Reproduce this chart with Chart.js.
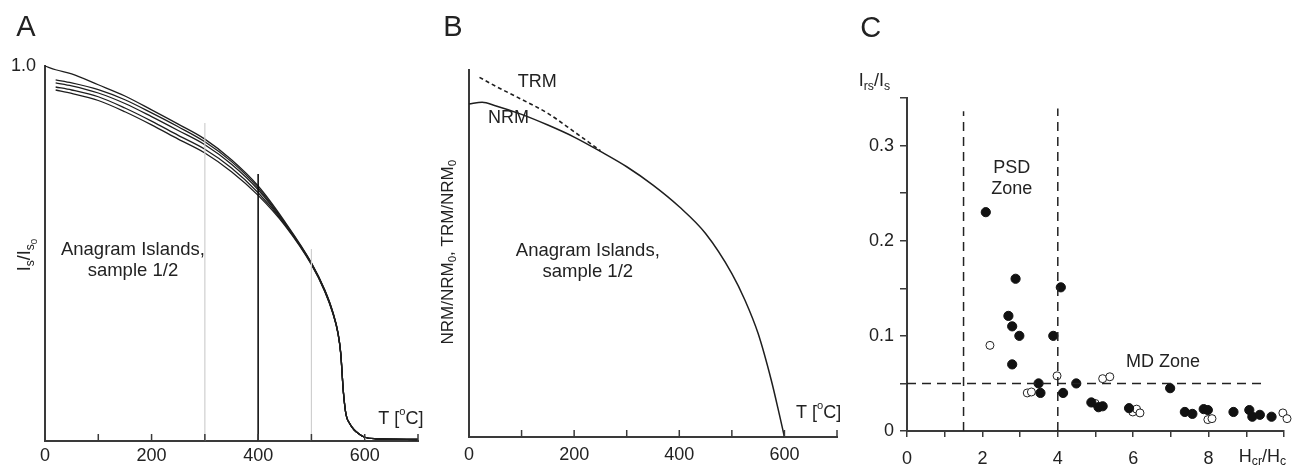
<!DOCTYPE html>
<html lang="en">
<head>
    <meta charset="UTF-8">
    <title>Thermomagnetic curves and hysteresis ratios</title>
    <script src="https://cdn.jsdelivr.net/npm/chart.js"></script>
    <style>
        body { margin: 0; background: #fff; }
        #wrap { position: relative; width: 1295px; height: 469px; }
        canvas { position: absolute; top: 0; }
    </style>
</head>
<body>
    <div id="wrap">
        <canvas id="chartA" width="440" height="469" style="left:0px"></canvas>
        <canvas id="chartB" width="420" height="469" style="left:440px"></canvas>
        <canvas id="chartC" width="465" height="469" style="left:830px"></canvas>
    </div>

    <script>
        // Panel A: Is/Is0 vs temperature, several runs of sample 1/2
        const tempA = [0, 20, 50, 100, 150, 200, 250, 300, 350, 400, 450, 500, 525, 540, 550, 555, 560, 565, 572, 580, 590, 600, 620, 700];
        const curveA1 = [1.0, 0.99, 0.979, 0.95, 0.92, 0.883, 0.845, 0.805, 0.75, 0.68, 0.585, 0.475, 0.403, 0.345, 0.288, 0.235, 0.13, 0.07, 0.046, 0.03, 0.018, 0.01, 0.006, 0.004];
        const curveA2 = [null, 0.963, 0.955, 0.937, 0.91, 0.875, 0.838, 0.798, 0.745, 0.675, 0.582, 0.474, 0.402, 0.344, 0.287, 0.234, 0.13, 0.07, 0.046, 0.03, 0.018, 0.01, 0.006, 0.004];
        const curveA3 = [null, 0.955, 0.947, 0.928, 0.90, 0.865, 0.828, 0.79, 0.738, 0.67, 0.58, 0.473, 0.401, 0.343, 0.287, 0.234, 0.13, 0.07, 0.046, 0.03, 0.018, 0.01, 0.006, 0.004];
        const curveA4 = [null, 0.944, 0.936, 0.918, 0.888, 0.853, 0.815, 0.778, 0.728, 0.662, 0.578, 0.472, 0.40, 0.342, 0.286, 0.233, 0.13, 0.07, 0.046, 0.03, 0.018, 0.01, 0.006, 0.004];
        const curveA5 = [null, 0.936, 0.927, 0.908, 0.878, 0.843, 0.805, 0.768, 0.718, 0.655, 0.575, 0.47, 0.399, 0.341, 0.285, 0.232, 0.13, 0.07, 0.046, 0.03, 0.018, 0.01, 0.006, 0.004];
        const markerT = [300, 400, 500];
        const markerTop = [0.848, 0.712, 0.512];
        const markerColor = ['#cfcfcf', '#111111', '#cfcfcf'];

        // Panel B: NRM and TRM demagnetisation
        const tempNRM = [0, 25, 50, 100, 150, 200, 250, 300, 350, 400, 450, 500, 525, 550, 575, 590, 600];
        const valNRM = [0.998, 1.003, 0.993, 0.967, 0.935, 0.899, 0.856, 0.81, 0.755, 0.69, 0.61, 0.49, 0.41, 0.31, 0.17, 0.07, 0.0];
        const tempTRM = [20, 50, 100, 150, 200, 250];
        const valTRM = [1.078, 1.052, 1.012, 0.97, 0.915, 0.858];

        // Panel C: Irs/Is vs Hcr/Hc
        const filledX = [2.09, 2.88, 4.08, 2.69, 2.79, 2.98, 3.88, 2.79, 3.49, 3.54, 4.14, 4.49, 4.89, 5.08, 5.19, 5.89, 6.98, 7.37, 7.57, 7.87, 7.98, 8.66, 9.08, 9.16, 9.36, 9.67];
        const filledY = [0.230, 0.160, 0.151, 0.121, 0.110, 0.100, 0.100, 0.070, 0.050, 0.040, 0.040, 0.050, 0.030, 0.025, 0.026, 0.024, 0.045, 0.020, 0.018, 0.023, 0.022, 0.020, 0.022, 0.015, 0.017, 0.015];
        const openX = [2.20, 3.98, 3.19, 3.30, 5.19, 5.38, 4.99, 5.99, 6.09, 6.18, 7.98, 8.09, 9.97, 10.08];
        const openY = [0.090, 0.058, 0.040, 0.041, 0.055, 0.057, 0.029, 0.020, 0.023, 0.019, 0.012, 0.013, 0.019, 0.013];
        const psdBounds = [1.5, 4];
        const mdLevel = 0.05;

        const FAMILY = '"Liberation Sans", Arial, sans-serif';
        const INK = '#222';
        const AXIS = '#3a3a3a';

        // text with sub/superscripts: level 0 normal, 1 sub, 2 sub-sub, -1 super
        function drawRich(ctx, parts, x, y, size, align, rot) {
            const scaleOf = l => l === 0 ? 1 : (l === -1 ? 0.62 : (l === 1 ? 0.68 : 0.55));
            const shiftOf = l => l === 0 ? 0 : (l === -1 ? -0.4 : (l === 1 ? 0.3 : 0.48));
            ctx.save();
            ctx.translate(x, y);
            if (rot) ctx.rotate(rot);
            ctx.textBaseline = 'middle';
            ctx.textAlign = 'left';
            ctx.fillStyle = INK;
            let w = 0;
            parts.forEach(p => {
                ctx.font = (size * scaleOf(p[1])) + 'px ' + FAMILY;
                w += ctx.measureText(p[0]).width;
            });
            let cx = align === 'center' ? -w / 2 : (align === 'right' ? -w : 0);
            parts.forEach(p => {
                ctx.font = (size * scaleOf(p[1])) + 'px ' + FAMILY;
                ctx.fillText(p[0], cx, shiftOf(p[1]) * size);
                cx += ctx.measureText(p[0]).width;
            });
            ctx.restore();
        }

        const notesPlugin = {
            id: 'notes',
            afterDraw(chart, args, opts) {
                const ctx = chart.ctx;
                const xs = chart.scales.x, ys = chart.scales.y;
                if (opts.innerTicks) {
                    ctx.save();
                    ctx.strokeStyle = AXIS;
                    ctx.lineWidth = 1.5;
                    xs.ticks.forEach(t => {
                        const px = xs.getPixelForValue(t.value);
                        ctx.beginPath();
                        ctx.moveTo(px, xs.top);
                        ctx.lineTo(px, xs.top - 7);
                        ctx.stroke();
                    });
                    ctx.restore();
                }
                (opts.items || []).forEach(n => {
                    drawRich(ctx, n.parts, xs.getPixelForValue(n.x), ys.getPixelForValue(n.y),
                        n.size || 18, n.align || 'center', n.rot || 0);
                });
            }
        };

        Chart.defaults.font.family = FAMILY;
        Chart.defaults.color = INK;

        const tickFont = { size: 18, family: FAMILY };

        function curve(xs, ys, extra) {
            return Object.assign({
                data: xs.map((x, i) => ({ x: x, y: ys[i] })),
                borderColor: '#1e1e1e',
                borderWidth: 1.3,
                pointRadius: 0,
                cubicInterpolationMode: 'monotone',
                fill: false,
                clip: false
            }, extra || {});
        }

        function baseOptions(pad, yWidth, xHeight) {
            return {
                responsive: false,
                animation: false,
                devicePixelRatio: 1,
                layout: { padding: pad },
                plugins: { legend: { display: false }, tooltip: { enabled: false } },
                scales: {
                    x: {
                        type: 'linear',
                        afterFit: s => { s.height = xHeight; }
                    },
                    y: {
                        type: 'linear',
                        afterFit: s => { s.width = yWidth; }
                    }
                }
            };
        }

        // ---------- Panel A ----------
        const optsA = baseOptions({ top: 66, right: 22, left: 0, bottom: 0 }, 45, 28);
        Object.assign(optsA.scales.x, {
            min: 0, max: 700,
            grid: { display: false, drawTicks: false },
            border: { color: AXIS, width: 2 },
            ticks: { stepSize: 100, autoSkip: false, maxRotation: 0, padding: 4, font: tickFont, color: INK,
                callback: v => (v % 200 === 0 && v <= 600) ? String(v) : '' }
        });
        Object.assign(optsA.scales.y, {
            min: 0, max: 1.0,
            grid: { display: false, drawTicks: false },
            border: { color: AXIS, width: 2 },
            ticks: { stepSize: 0.5, padding: 9, font: tickFont, color: INK,
                callback: v => v === 1 ? '1.0' : '' }
        });
        optsA.plugins.notes = {
            innerTicks: true,
            items: [
                { parts: [['A', 0]], x: -35.6, y: 1.101, size: 29 },
                { parts: [['I', 0], ['s', 1], ['/I', 0], ['s', 1], ['0', 2]], x: -37, y: 0.496, rot: -Math.PI / 2 },
                { parts: [['Anagram Islands,', 0]], x: 165, y: 0.509, size: 18.5 },
                { parts: [['sample 1/2', 0]], x: 165, y: 0.453, size: 18.5 },
                { parts: [['T [', 0], ['o', -1], ['C]', 0]], x: 668, y: 0.058 }
            ]
        };
        const dsA = [];
        markerT.forEach((t, i) => {
            dsA.push(curve([t, t], [0, markerTop[i]], { borderColor: markerColor[i], borderWidth: i === 1 ? 1.6 : 1.2, cubicInterpolationMode: 'default' }));
        });
        [curveA5, curveA4, curveA3, curveA2, curveA1].forEach(c => dsA.push(curve(tempA, c)));
        new Chart(document.getElementById('chartA'), {
            type: 'line',
            data: { datasets: dsA },
            options: optsA,
            plugins: [notesPlugin]
        });

        // ---------- Panel B ----------
        const optsB = baseOptions({ top: 70, right: 23, left: 0, bottom: 0 }, 29, 32);
        Object.assign(optsB.scales.x, {
            min: 0, max: 700,
            grid: { display: false, drawTicks: false },
            border: { color: AXIS, width: 2 },
            ticks: { stepSize: 100, autoSkip: false, maxRotation: 0, padding: 7, font: tickFont, color: INK,
                callback: v => (v % 200 === 0 && v <= 600) ? String(v) : '' }
        });
        Object.assign(optsB.scales.y, {
            min: 0, max: 1.1,
            grid: { display: false, drawTicks: false },
            border: { color: AXIS, width: 2 },
            ticks: { display: false }
        });
        optsB.plugins.notes = {
            innerTicks: true,
            items: [
                { parts: [['B', 0]], x: -30.6, y: 1.225, size: 29 },
                { parts: [['NRM/NRM', 0], ['0', 1], [', TRM/NRM', 0], ['0', 1]], x: -40, y: 0.554, size: 17, rot: -Math.PI / 2 },
                { parts: [['TRM', 0]], x: 130, y: 1.063 },
                { parts: [['NRM', 0]], x: 75, y: 0.955 },
                { parts: [['Anagram Islands,', 0]], x: 226, y: 0.557, size: 18.5 },
                { parts: [['sample 1/2', 0]], x: 226, y: 0.494, size: 18.5 },
                { parts: [['T [', 0], ['o', -1], ['C]', 0]], x: 665, y: 0.072 }
            ]
        };
        new Chart(document.getElementById('chartB'), {
            type: 'line',
            data: {
                datasets: [
                    curve(tempTRM, valTRM, { borderDash: [4, 3], borderWidth: 1.6 }),
                    curve(tempNRM, valNRM, { borderWidth: 1.5 })
                ]
            },
            options: optsB,
            plugins: [notesPlugin]
        });

        // ---------- Panel C ----------
        const optsC = baseOptions({ top: 98, right: 7, left: 0, bottom: 0 }, 77, 38);
        Object.assign(optsC.scales.x, {
            min: 0, max: 10,
            grid: { drawOnChartArea: false, drawTicks: true, tickLength: 6, color: AXIS, lineWidth: 1.5 },
            border: { color: AXIS, width: 2 },
            ticks: { stepSize: 1, autoSkip: false, maxRotation: 0, padding: 11, font: tickFont, color: INK,
                callback: v => (v % 2 === 0 && v < 10) ? String(v) : '' }
        });
        Object.assign(optsC.scales.y, {
            min: 0, max: 0.35,
            grid: { drawOnChartArea: false, drawTicks: true, tickLength: 7, color: AXIS, lineWidth: 1.5 },
            border: { color: AXIS, width: 2 },
            ticks: { stepSize: 0.05, autoSkip: false, padding: 6, font: tickFont, color: INK,
                callback: v => {
                    const r = Math.round(v * 100);
                    if (r === 0) return '0';
                    return r % 10 === 0 ? (r / 100).toFixed(1) : '';
                } }
        });
        optsC.plugins.notes = {
            items: [
                { parts: [['C', 0]], x: -0.96, y: 0.423, size: 29 },
                { parts: [['I', 0], ['rs', 1], ['/I', 0], ['s', 1]], x: -0.45, y: 0.368, align: 'right' },
                { parts: [['H', 0], ['cr', 1], ['/H', 0], ['c', 1]], x: 9.43, y: -0.027 },
                { parts: [['PSD', 0]], x: 2.78, y: 0.276 },
                { parts: [['Zone', 0]], x: 2.78, y: 0.254 },
                { parts: [['MD Zone', 0]], x: 6.79, y: 0.072 }
            ]
        };
        const dashStyle = { borderColor: '#222', borderWidth: 1.5, borderDash: [9, 6], cubicInterpolationMode: 'default' };
        new Chart(document.getElementById('chartC'), {
            type: 'scatter',
            data: {
                datasets: [
                    Object.assign(curve([psdBounds[0], psdBounds[0]], [0, 0.336]), dashStyle, { showLine: true }),
                    Object.assign(curve([psdBounds[1], psdBounds[1]], [0, 0.339]), dashStyle, { showLine: true }),
                    Object.assign(curve([0, 9.48], [mdLevel, mdLevel]), dashStyle, { showLine: true }),
                    {
                        data: filledX.map((x, i) => ({ x: x, y: filledY[i] })),
                        pointRadius: 4.6,
                        pointBackgroundColor: '#111',
                        pointBorderColor: '#111',
                        pointBorderWidth: 1,
                        clip: false
                    },
                    {
                        data: openX.map((x, i) => ({ x: x, y: openY[i] })),
                        pointRadius: 4,
                        pointBackgroundColor: '#fff',
                        pointBorderColor: '#222',
                        pointBorderWidth: 1,
                        clip: false
                    }
                ]
            },
            options: optsC,
            plugins: [notesPlugin]
        });
    </script>
</body>
</html>
